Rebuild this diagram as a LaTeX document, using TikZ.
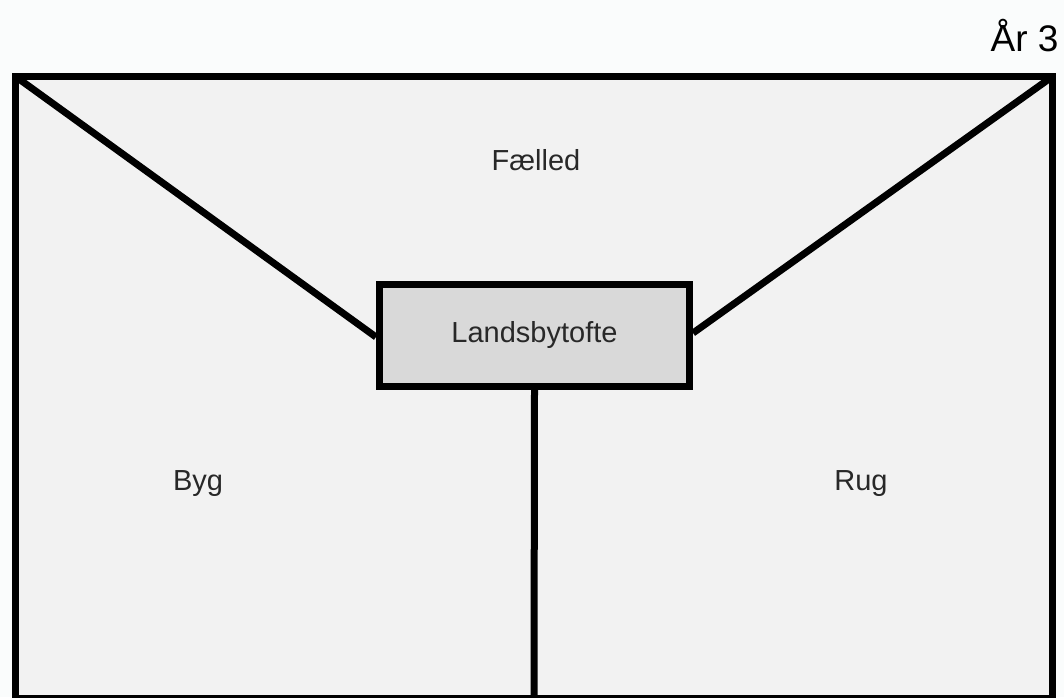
\documentclass[tikz,border=0pt]{standalone}
\usepackage{fontspec}
\setmainfont{Liberation Sans}
\definecolor{pagebg}{RGB}{250,252,252}
\definecolor{fieldfill}{RGB}{242,242,242}
\definecolor{tofte}{RGB}{217,217,217}
\definecolor{txt}{RGB}{40,40,40}
\begin{document}
\begin{tikzpicture}[x=1pt,y=-1pt,
  thick line/.style={line width=7pt,black},
  label text/.style={font=\fontsize{29}{33}\selectfont,text=txt,inner sep=0pt}]
\useasboundingbox (0,0) rectangle (1064,697);
\fill[pagebg] (0,0) rectangle (1064,697);
% outer field
\coordinate (tl) at (15.5,76.5);
\coordinate (tr) at (1052.5,76.5);
\coordinate (br) at (1052.5,698);
\coordinate (bl) at (15.5,698);
\coordinate (bottom) at (534,698);
\fill[fieldfill] (tl) rectangle (br);
% central box
\node[draw,thick line,fill=tofte,minimum width=310pt,minimum height=102pt,inner sep=0pt,
      label text] (box) at (534.5,335) {Landsbytofte};
% connectors
\draw[thick line] (tl) -- ([yshift=-2pt]box.west);
\draw[thick line] (tr) -- ([yshift=2pt]box.east);
\draw[thick line] (box.south) -- (bottom);
\draw[thick line,line join=miter] (tl) -- (tr) -- (br) -- (bl) -- cycle;
% labels
\node[label text] (faelled) at (536,160) {Fælled};
\node[label text] (byg) at (198,484) {Byg};
\node[label text] (rug) at (861,484) {Rug};
\node[font=\fontsize{37}{41}\selectfont,text=black,inner sep=0pt] (year) at (1024.5,36) {År 3};
\end{tikzpicture}
\end{document}
